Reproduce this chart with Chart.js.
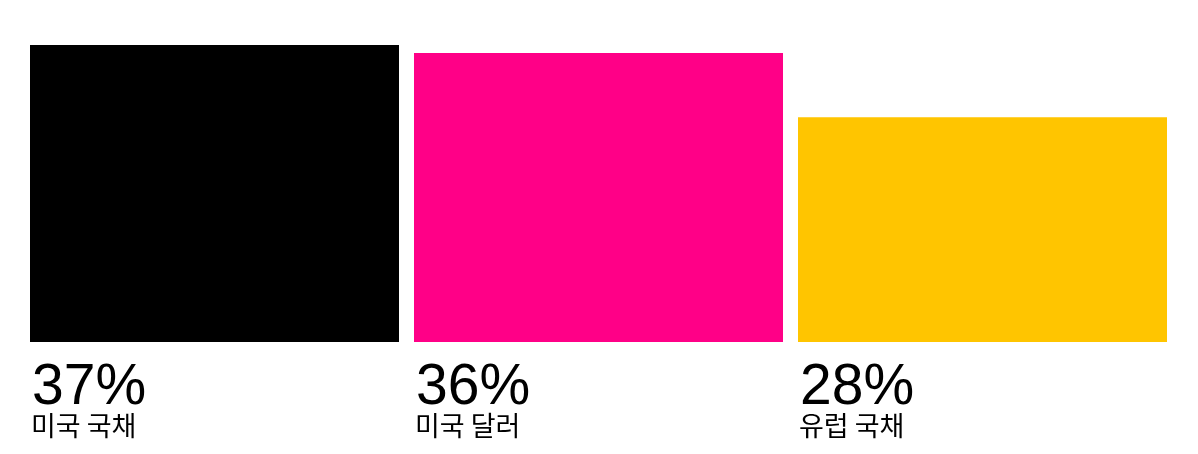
<!DOCTYPE html>
<html>
<head>
<meta charset="utf-8">
<script src="https://cdn.jsdelivr.net/npm/chart.js@4"></script>
<style>
  html, body { margin: 0; padding: 0; background: #fff; }
  #wrap { width: 1198px; height: 454px; }
</style>
</head>
<body>
<div id="wrap"><canvas id="shareChart" width="1198" height="454"></canvas></div>
<script>
const categories = ['미국 국채', '미국 달러', '유럽 국채'];
const shares = [37, 36, 28];
const pctLabels = ['37%', '36%', '28%'];
const barColors = ['#000000', '#FF0087', '#FFC500'];

// writes the big percent and the name under each bar
const labelsBelow = {
    id: 'labelsBelow',
    afterDatasetsDraw(chart) {
        const ctx = chart.ctx;
        const meta = chart.getDatasetMeta(0);
        const bottom = chart.scales.y.getPixelForValue(0);
        ctx.save();
        ctx.fillStyle = '#000';
        ctx.textAlign = 'left';
        ctx.textBaseline = 'alphabetic';
        meta.data.forEach((bar, i) => {
            const left = bar.x - bar.width / 2;
            ctx.font = '57px "Liberation Sans", Arial, sans-serif';
            ctx.fillText(pctLabels[i], left + 2, bottom + 62);
            ctx.font = '27px "Noto Sans CJK KR", sans-serif';
            ctx.fillText(categories[i], left + 1, bottom + 94);
        });
        ctx.restore();
    }
};

new Chart(document.getElementById('shareChart').getContext('2d'), {
    type: 'bar',
    data: {
        labels: categories,
        datasets: [{
            data: shares,
            backgroundColor: barColors,
            borderWidth: 0,
            categoryPercentage: 1,
            barPercentage: 369 / 384
        }]
    },
    options: {
        responsive: false,
        animation: false,
        layout: {
            padding: {left: 22.5, right: 23.5, top: 45, bottom: 112}
        },
        plugins: {
            legend: {display: false},
            tooltip: {enabled: false}
        },
        scales: {
            x: {display: false},
            y: {display: false, min: 0, max: 37}
        }
    },
    plugins: [labelsBelow]
});
</script>
</body>
</html>
